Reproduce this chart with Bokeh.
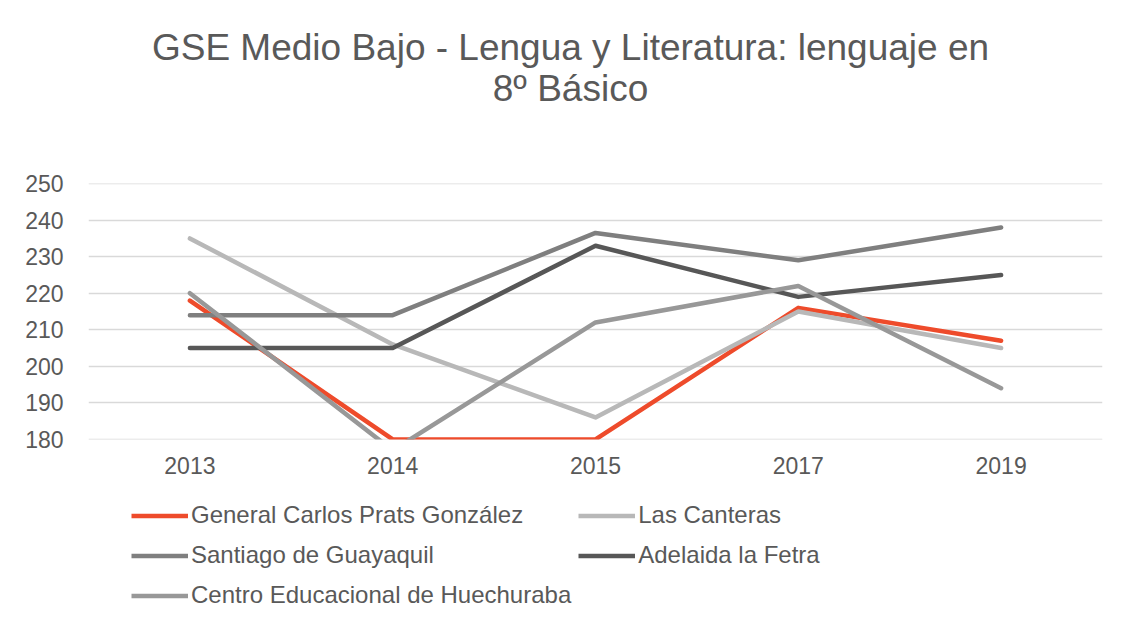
from bokeh.plotting import figure
from bokeh.models import FactorRange, FixedTicker, Legend, LegendItem, Label, Range1d
from bokeh.layouts import column
from bokeh.embed import file_html
from bokeh.resources import INLINE

years = ["2013", "2014", "2015", "2017", "2019"]
prats = [218, 180, 180, 216, 207]
canteras = [235, 206, 186, 215, 205]
santiago = [214, 214, 236.5, 229, 238]
adelaida = [205, 205, 233, 219, 225]
centro = [220, 177, 212, 222, 194]
series_names = ["General Carlos Prats González", "Las Canteras", "Santiago de Guayaquil",
                "Adelaida la Fetra", "Centro Educacional de Huechuraba"]
series_values = [prats, canteras, santiago, adelaida, centro]
series_colors = ["#EE4B2B", "#B8B8B8", "#7F7F7F", "#575757", "#989898"]
y_ticks = [180, 190, 200, 210, 220, 230, 240, 250]
title_lines = ["GSE Medio Bajo - Lengua y Literatura: lenguaje en", "8º Básico"]

FONT = "Liberation Sans"
TXT = "#595959"
W = 1117


def bare(fig):
    fig.outline_line_color = None
    fig.background_fill_color = "white"
    fig.border_fill_color = "white"
    fig.grid.visible = False
    return fig


# ---- title strip ----
pt = bare(figure(width=W, height=160, output_backend="svg", toolbar_location=None,
                 x_axis_location=None, y_axis_location=None, min_border=0,
                 x_range=Range1d(0, 1), y_range=Range1d(0, 1)))
for txt, yy in zip(title_lines, [113, 72]):
    pt.add_layout(Label(x=482, y=yy, x_units="screen", y_units="screen", text=txt,
                        text_align="center", text_baseline="alphabetic",
                        text_font=FONT, text_font_size="37px", text_color=TXT))

# ---- main chart ----
p = figure(width=W, height=325, x_range=FactorRange(*years, range_padding=0),
           y_range=Range1d(179.97, 250.03), output_backend="svg", toolbar_location=None,
           min_border_left=88, min_border_right=15, min_border_top=23, min_border_bottom=46)
p.outline_line_color = None
p.background_fill_color = "white"
p.border_fill_color = "white"
p.xgrid.grid_line_color = None
p.ygrid.grid_line_color = "#D9D9D9"
p.ygrid.grid_line_width = 1.3
p.ygrid.ticker = FixedTicker(ticks=y_ticks)
p.yaxis.ticker = FixedTicker(ticks=y_ticks)
for ax in (p.xaxis[0], p.yaxis[0]):
    ax.axis_line_color = None
    ax.major_tick_line_color = None
    ax.minor_tick_line_color = None
    ax.major_tick_out = 0
    ax.major_tick_in = 0
    ax.major_label_text_font = FONT
    ax.major_label_text_font_size = "23px"
    ax.major_label_text_color = TXT
p.yaxis.major_label_standoff = 25
p.xaxis.major_label_standoff = 17

for vals, col in zip(series_values, series_colors):
    p.line(years, vals, line_color=col, line_width=4.5, line_cap="round", line_join="round")

# ---- legend strip ----
pl = bare(figure(width=W, height=129, output_backend="svg", toolbar_location=None,
                 x_axis_location=None, y_axis_location=None, min_border=0,
                 x_range=FactorRange(*years), y_range=Range1d(0, 1)))
leg_renderers = []
for vals, col in zip(series_values, series_colors):
    leg_renderers.append(pl.line(years, vals, line_color=col, line_width=4.5))

lg = Legend(items=[LegendItem(label=n, renderers=[r]) for n, r in zip(series_names, leg_renderers)],
            location=(43, 2.5), orientation="horizontal", ncols=2)
lg.padding = 0
lg.margin = 0
lg.border_line_color = None
lg.background_fill_alpha = 0
lg.glyph_width = 57
lg.glyph_height = 33
lg.label_height = 33
lg.label_width = 370
lg.spacing = 7
lg.label_standoff = 3
lg.label_text_font = FONT
lg.label_text_font_size = "24px"
lg.label_text_color = TXT
pl.add_layout(lg)

layout = column(pt, p, pl, spacing=0)
open("out.html", "w").write(file_html(layout, INLINE))
